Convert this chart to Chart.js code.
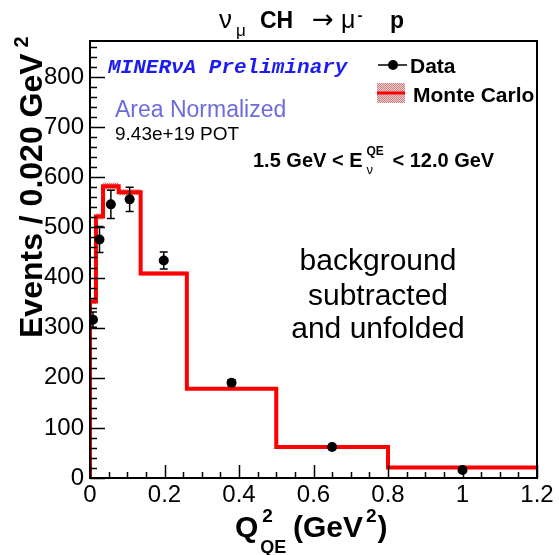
<!DOCTYPE html>
<html lang="en">
<head>
<meta charset="UTF-8">
<title>Q2 QE - MINERvA</title>
<script src="https://cdn.jsdelivr.net/npm/chart.js"></script>
<style>
  body { margin: 0; background: #fff; }
</style>
</head>
<body>
<canvas id="q2Chart" width="559" height="555"></canvas>
<script>
// histogram bin edges in Q2_QE (GeV^2)
const binEdges = [0, 0.016, 0.035, 0.077, 0.136, 0.26, 0.5, 0.8, 1.2];
// Monte Carlo prediction per bin (area normalized) + its small error band
const mcValues = [352, 522, 582, 570, 408, 178, 62, 21];
const mcErrors = [5, 6, 7, 6, 4, 2, 1, 1];
// data points (background subtracted and unfolded)
const dataValues = [316, 476, 546, 556, 434, 190, 62, 16];
const dataErrors = [15, 26, 28, 24, 17, 6, 4, 3];
// axis tick labels
const xTickLabels = [0, 0.2, 0.4, 0.6, 0.8, 1, 1.2];
const yTickLabels = [0, 100, 200, 300, 400, 500, 600, 700, 800];

const FONT = "'Liberation Sans', Arial, Helvetica, sans-serif";
const binCenters = binEdges.slice(0, -1).map((e, i) => (e + binEdges[i + 1]) / 2);

// points for a stepped line that draws the histogram outline
function stepPoints(vals, fromZero) {
  const pts = fromZero ? [{x: binEdges[0], y: 0}] : [];
  vals.forEach((v, i) => pts.push({x: binEdges[i], y: v}));
  pts.push({x: binEdges[binEdges.length - 1], y: vals[vals.length - 1]});
  return pts;
}

// pinkish checker pattern like the ROOT hatched error band
function makeHatch(ctx) {
  const c = document.createElement('canvas');
  c.width = 2; c.height = 2;
  const g = c.getContext('2d');
  g.fillStyle = 'rgb(236,205,205)';
  g.fillRect(0, 0, 2, 2);
  g.fillStyle = 'rgb(200,130,130)';
  g.fillRect(0, 0, 1, 1);
  g.fillRect(1, 1, 1, 1);
  return ctx.createPattern(c, 'repeat');
}

function txt(ctx, s, font, x, y, color) {
  ctx.font = font;
  ctx.fillStyle = color || '#000';
  ctx.fillText(s, x, y);
  return x + ctx.measureText(s).width;
}

const errorBars = {
  id: 'errorBars',
  beforeDatasetDraw(chart, args) {
    if (args.index !== 0) return;
    const ctx = chart.ctx, xs = chart.scales.x, ys = chart.scales.y;
    ctx.save();
    ctx.strokeStyle = '#000';
    ctx.lineWidth = 1.5;
    binCenters.forEach((c, i) => {
      const px = xs.getPixelForValue(c);
      const lo = ys.getPixelForValue(dataValues[i] - dataErrors[i]);
      const hi = ys.getPixelForValue(dataValues[i] + dataErrors[i]);
      ctx.beginPath();
      ctx.moveTo(px, lo); ctx.lineTo(px, hi);
      ctx.moveTo(px - 4, lo); ctx.lineTo(px + 4, lo);
      ctx.moveTo(px - 4, hi); ctx.lineTo(px + 4, hi);
      ctx.stroke();
    });
    ctx.restore();
  }
};

const frameAndText = {
  id: 'frameAndText',
  beforeDraw(chart) {
    const ctx = chart.ctx;
    ctx.save();
    ctx.fillStyle = '#fff';
    ctx.fillRect(0, 0, chart.width, chart.height);
    ctx.restore();
  },
  afterDraw(chart) {
    const ctx = chart.ctx, a = chart.chartArea;
    const xs = chart.scales.x, ys = chart.scales.y;
    ctx.save();
    // frame
    ctx.strokeStyle = '#000';
    ctx.lineWidth = 2;
    ctx.strokeRect(a.left, a.top, a.right - a.left, a.bottom - a.top);
    // inner ticks, y: major 100 / minor 20
    ctx.lineWidth = 1.5;
    ctx.beginPath();
    for (let v = 0; v <= ys.max; v += 20) {
      const py = Math.round(ys.getPixelForValue(v)) + 0.5;
      const len = v % 100 === 0 ? 15 : 7;
      ctx.moveTo(a.left, py); ctx.lineTo(a.left + len, py);
    }
    // x: major 0.2 / minor 0.05
    for (let i = 0; i <= 24; i++) {
      const px = Math.round(xs.getPixelForValue(i * 0.05)) + 0.5;
      const len = i % 4 === 0 ? 13 : 6;
      ctx.moveTo(px, a.bottom); ctx.lineTo(px, a.bottom - len);
    }
    ctx.stroke();

    ctx.textBaseline = 'alphabetic';
    ctx.textAlign = 'left';
    // title
    txt(ctx, 'ν', `26px ${FONT}`, 219, 28);
    txt(ctx, 'μ', `17px ${FONT}`, 236, 36);
    txt(ctx, 'CH', `bold 23px ${FONT}`, 260, 28);
    txt(ctx, '→', `26px 'DejaVu Sans', sans-serif`, 312, 28);
    let e = txt(ctx, 'μ', `25px ${FONT}`, 341, 28);
    txt(ctx, '-', `bold 15px ${FONT}`, e + 2, 20);
    txt(ctx, 'p', `bold 23px ${FONT}`, 390, 28);

    // y title (rotated)
    ctx.save();
    ctx.translate(42, 338);
    ctx.rotate(-Math.PI / 2);
    e = txt(ctx, 'Events / 0.020 GeV', `bold 32px ${FONT}`, 0, 0);
    txt(ctx, '2', `bold 20px ${FONT}`, e + 6, -14);
    ctx.restore();

    // x title
    e = txt(ctx, 'Q', `bold 30px ${FONT}`, 235, 537);
    txt(ctx, '2', `bold 19px ${FONT}`, e + 4, 522);
    txt(ctx, 'QE', `bold 18px ${FONT}`, e + 2, 553);
    e = txt(ctx, '(GeV', `bold 30px ${FONT}`, 293, 537);
    e = txt(ctx, '2', `bold 19px ${FONT}`, e + 3, 522);
    txt(ctx, ')', `bold 30px ${FONT}`, e + 1, 537);

    // labels inside the frame
    txt(ctx, 'MINERνA Preliminary', `italic bold 21px 'Liberation Mono', 'Courier New', monospace`, 108, 73, '#1c1cf0');
    txt(ctx, 'Area Normalized', `23px ${FONT}`, 115, 117, '#6c6cdc');
    txt(ctx, '9.43e+19 POT', `19px ${FONT}`, 115, 140);
    e = txt(ctx, '1.5 GeV < E', `bold 20px ${FONT}`, 253, 167);
    const w1 = txt(ctx, 'QE', `bold 12px ${FONT}`, e + 4, 155);
    txt(ctx, 'ν', `13px ${FONT}`, e + 4, 174);
    txt(ctx, ' < 12.0 GeV', `bold 20px ${FONT}`, w1 + 3, 167);

    ctx.textAlign = 'center';
    txt(ctx, 'background', `30px ${FONT}`, 378, 270);
    txt(ctx, 'subtracted', `30px ${FONT}`, 378, 305);
    txt(ctx, 'and unfolded', `30px ${FONT}`, 378, 338);
    ctx.textAlign = 'left';

    // legend
    ctx.strokeStyle = '#000';
    ctx.lineWidth = 1.5;
    ctx.beginPath();
    ctx.moveTo(378, 65); ctx.lineTo(407, 65);
    ctx.stroke();
    ctx.fillStyle = '#000';
    ctx.beginPath();
    ctx.arc(393, 65, 5, 0, Math.PI * 2);
    ctx.fill();
    txt(ctx, 'Data', `bold 21px ${FONT}`, 410, 73);
    ctx.fillStyle = makeHatch(ctx);
    ctx.fillRect(377, 83, 28, 20);
    ctx.strokeStyle = '#f00';
    ctx.lineWidth = 3;
    ctx.beginPath();
    ctx.moveTo(377, 93); ctx.lineTo(405, 93);
    ctx.stroke();
    txt(ctx, 'Monte Carlo', `bold 21px ${FONT}`, 413, 102);
    ctx.restore();
  }
};

const ctx = document.getElementById('q2Chart').getContext('2d');
const hatch = makeHatch(ctx);

new Chart(ctx, {
  type: 'line',
  data: {
    datasets: [
      {
        label: 'Data',
        data: binCenters.map((c, i) => ({x: c, y: dataValues[i]})),
        showLine: false,
        pointRadius: 5,
        pointBackgroundColor: '#000',
        pointBorderWidth: 0
      },
      {
        label: 'Monte Carlo',
        data: stepPoints(mcValues, true),
        stepped: 'before',
        borderColor: '#ff0000',
        borderWidth: 4,
        pointRadius: 0,
        fill: false
      },
      {
        label: 'MC band up',
        data: stepPoints(mcValues.map((v, i) => v + mcErrors[i]), false),
        stepped: 'before',
        borderWidth: 0,
        pointRadius: 0,
        backgroundColor: hatch,
        fill: '+1'
      },
      {
        label: 'MC band down',
        data: stepPoints(mcValues.map((v, i) => v - mcErrors[i]), false),
        stepped: 'before',
        borderWidth: 0,
        pointRadius: 0,
        fill: false
      }
    ]
  },
  options: {
    responsive: false,
    animation: false,
    layout: { padding: { top: 41, right: 22, left: 0, bottom: 0 } },
    plugins: { legend: { display: false }, tooltip: { enabled: false } },
    scales: {
      x: {
        type: 'linear',
        min: 0,
        max: 1.2,
        grid: { display: false, drawTicks: false, tickLength: 0 },
        border: { display: false },
        afterBuildTicks: s => { s.ticks = xTickLabels.map(v => ({value: v})); },
        afterFit: s => { s.height = 77; },
        ticks: {
          color: '#000',
          padding: 3,
          maxRotation: 0,
          font: { family: FONT, size: 24 },
          callback: v => String(v)
        }
      },
      y: {
        min: 0,
        max: 872,
        grid: { display: false, drawTicks: false, tickLength: 0 },
        border: { display: false },
        afterBuildTicks: s => { s.ticks = yTickLabels.map(v => ({value: v})); },
        afterFit: s => { s.width = 90; },
        ticks: {
          color: '#000',
          padding: 6,
          font: { family: FONT, size: 24 },
          callback: v => String(v)
        }
      }
    }
  },
  plugins: [errorBars, frameAndText]
});
</script>
</body>
</html>
